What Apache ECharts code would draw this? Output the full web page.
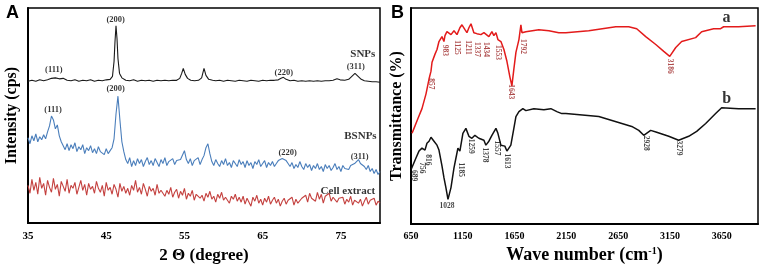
<!DOCTYPE html>
<html>
<head>
<meta charset="utf-8">
<script src="https://cdn.jsdelivr.net/npm/echarts@6/dist/echarts.min.js"></script>
<style>
  html, body { margin: 0; padding: 0; background: #fff; }
  #chart { width: 765px; height: 269px; }
</style>
</head>
<body>
<div id="chart"></div>
<script>
// ---- panel A: XRD (intensity in arbitrary units) ----
const xrdStart = 35;
const xrdStep = 0.25;
const xrdTicks = [35, 45, 55, 65, 75];

const snpPoints = [
  [35,143],[35.5,144],[36,143],[36.5,144.5],[37,143.5],[37.5,144.5],[38,146],[38.5,146.5],[39,145.5],[39.5,146],
  [40,144],[40.5,143.5],[41,144.5],[41.5,143],[42,144],[42.5,143.5],[43,144.5],[43.5,143],[44,144],[44.5,143.5],
  [45,144.5],[45.5,145],[45.8,148],[46.0,163],[46.12,183],[46.25,199],[46.38,186],[46.5,166],[46.7,151],[47,146.5],
  [47.5,144],[48,143.5],[48.5,144.5],[49,143],[49.5,144],[50,143.5],[50.5,144],[51,143],[51.5,144],[52,143.5],
  [52.5,144],[53,143.5],[53.5,144],[54,144],[54.4,146],[54.65,151],[54.85,156],[55.1,150],[55.4,146],[55.8,144],
  [56.3,143.5],[56.8,144],[57.2,146.5],[57.5,156],[57.75,149],[58.1,145],[58.6,144],[59,143.5],[59.5,144],[60,143],
  [60.5,144],[61,143.5],[61.5,143],[62,144],[62.5,143.5],[63,143],[63.5,144],[64,143.5],[64.5,143],[65,144],
  [65.5,143.5],[66,144],[66.5,144],[67,144.5],[67.35,146],[67.65,147],[68,145],[68.5,143.5],[69,144],[69.5,143],
  [70,143.5],[70.5,143],[71,143.5],[71.5,143],[72,143.5],[72.5,143],[73,143.5],[73.5,143.5],[74,144],[74.5,145.5],
  [74.9,144.5],[75.5,144],[76,145],[76.4,148],[76.8,151],[77.2,148],[77.6,145],[78,143.5],[78.5,143],[79,142.5],
  [79.5,142.5],[80,142]
];

// sampled every 0.25 degree from 35 to 80
const bsnpIntensity = [
  86, 80, 88, 83, 90, 82, 87, 84, 89, 85, 92,
  98, 108, 104, 95, 99, 88, 82,
  78, 74, 80, 73, 79, 75, 81, 72, 77, 74, 79, 70, 76, 73, 78, 71, 75, 70, 77, 72, 74, 69, 75, 70, 73,
  76, 85, 110, 128, 104, 82, 72, 64, 60, 66, 57,
  63, 58, 65, 60, 64, 57, 62, 66, 59, 63, 58, 65, 61, 57, 64, 60, 66, 58, 62, 60, 65, 59, 63, 61, 64,
  66, 73, 64,
  60, 65, 58, 63, 61, 66, 59, 64, 68,
  76, 80, 70, 62,
  58, 64, 60, 57, 63, 59, 65, 58, 61, 56, 63, 60, 57, 64, 59, 62, 56, 63, 58, 61, 55, 62, 59, 64, 57, 60, 63, 56, 61, 58, 62, 57, 60, 63, 61,
  65, 67, 63, 60,
  57, 61, 55, 59, 56, 62, 57, 54, 60, 56, 59, 53, 58, 55, 60, 54, 57, 52, 59, 55, 58, 53, 56, 60, 54, 57, 52, 58, 55, 57, 54, 58, 56, 60, 62,
  64, 60, 62,
  57, 54, 58, 52, 55, 50, 54, 49, 52
];

const cellIntensity = [
  38, 30, 44, 33, 41, 29, 46, 35, 40, 28, 43, 36, 31, 45, 34, 39, 27, 42, 37, 32,
  44, 30, 38, 35, 41, 29, 36, 43, 33, 39, 28, 40, 34, 37, 30, 42, 35, 31, 38, 27,
  41, 33, 36, 29, 39, 34, 26, 40, 32, 37, 30, 35, 28, 38, 33, 43, 31, 36, 29, 40,
  34, 27, 37, 32, 35, 28, 39, 30, 33,
  35, 27, 33, 29, 36, 26, 31, 34, 25, 32, 28, 35, 24, 30, 27, 33, 23, 29, 31, 25,
  28, 22, 30, 26, 32, 24, 27, 21, 29, 25, 31, 23, 26, 28, 20, 27, 24, 29, 22, 26,
  21, 27, 19, 25, 23, 17, 26, 22, 28, 20, 24, 18, 25, 21, 27, 19, 23, 26, 20, 24,
  17, 22, 25, 19, 23, 21, 26, 18, 24, 20, 22, 25,
  23, 28, 21, 30, 25, 27, 22, 31, 24, 29, 20, 27, 25, 30, 22, 26, 28, 21, 25, 23,
  26, 19, 24, 21, 27, 18, 23, 25, 20, 24, 17, 22, 26, 19, 23, 21, 25, 18, 22, 20
];

// [angle, intensity, text]
const xrdPeakLabels = [
  [38.3, 155, '(111)'], [46.2, 205, '(200)'], [67.7, 152, '(220)'], [76.9, 158, '(311)'],
  [38.2, 114, '(111)'], [46.2, 135, '(200)'], [68.2, 71, '(220)'], [77.4, 67, '(311)']
];
const xrdSeriesLabels = [[77.8, 170, 'SNPs'], [77.5, 88, 'BSNPs'], [75.9, 32, 'Cell extract']];

// ---- panel B: FTIR ----
const ftirTicks = [650, 1150, 1650, 2150, 2650, 3150, 3650];

const ftirA = [
  [660,92],[679,97],[717,107],[756,117],[795,132],[824,147],[843,155],[853,164],[881,172],[901,177],
  [920,185],[949,190],[968,185],[978,191],[997,195],[1016,194],[1036,192],[1065,196],[1094,192],[1122,199],
  [1142,202],[1171,197],[1190,194],[1209,199],[1229,203],[1257,194],[1286,193],[1325,192],[1354,194],[1373,195],
  [1402,190],[1431,195],[1450,191],[1470,194],[1489,187],[1518,185],[1547,177],[1576,165],[1605,149],[1624,140],
  [1643,157],[1663,174],[1692,187],[1711,202],[1721,194],[1740,193],[1759,195],[1884,197],[1981,196],[2077,194],
  [2145,194],[2366,196],[2627,200],[2752,200],[2829,198],[2916,190],[3013,182],[3090,175],[3148,170],[3206,179],
  [3263,185],[3398,189],[3456,195],[3572,198],[3639,198],[3668,200],[3813,200],[3977,201]
];

const ftirB = [
  [650,55],[660,57],[669,53],[698,67],[727,74],[756,77],[785,75],[804,82],[824,84],[843,88],
  [872,84],[901,80],[920,75],[949,59],[968,47],[987,37],[1007,25],[1036,37],[1065,57],[1084,67],
  [1103,77],[1122,74],[1151,92],[1180,97],[1209,89],[1238,87],[1267,90],[1305,87],[1354,85],[1373,80],
  [1402,84],[1431,90],[1470,97],[1489,92],[1518,80],[1556,79],[1576,74],[1614,80],[1643,97],[1663,109],
  [1692,114],[1730,117],[1759,115],[1836,117],[1933,116],[2000,117],[2058,114],[2106,112],[2145,112],[2463,109],
  [2781,99],[2849,95],[2897,90],[2964,95],[3022,93],[3138,89],[3234,85],[3331,89],[3408,94],[3495,102],
  [3591,112],[3649,118],[3813,117],[3977,117]
];

// [wavenumber, transmittance, text, rotate]
const ftirLabelsA = [
  [843,142,'857',-90],[978,176,'983',-90],[1094,179,'1125',-90],[1200,179,'1211',-90],[1286,177,'1337',-90],
  [1373,177,'1434',-90],[1489,174,'1553',-90],[1614,134,'1643',-90],[1730,180,'1792',-90],[3148,160,'3186',-90]
];
const ftirLabelsB = [
  [679,49,'689',-90],[756,57,'756',-90],[814,65,'816',-90],[997,18,'1028',0],[1132,55,'1185',-90],
  [1229,79,'1259',-90],[1364,70,'1378',-90],[1479,77,'1557',-90],[1576,64,'1613',-90],[2916,82,'2928',-90],
  [3234,77,'3279',-90]
];
const ftirCurveNames = [[3697,209,'a'],[3697,127,'b']];

const SERIF = '"Liberation Serif", "Times New Roman", serif';
const SANS = '"Liberation Sans", Arial, sans-serif';

const chart = echarts.init(document.getElementById('chart'), null, { renderer: 'canvas' });

function textSeries(idx, items, fontSize, color) {
  return {
    type: 'scatter', xAxisIndex: idx, yAxisIndex: idx, symbolSize: 1, silent: true, z: 5,
    itemStyle: { color: 'transparent' },
    label: { show: true, position: 'inside', fontFamily: SERIF, fontWeight: 'bold', fontSize: fontSize, color: color },
    data: items.map(d => ({ value: [d[0], d[1]], label: { formatter: d[2], rotate: d[3] || 0 } }))
  };
}

function xrdLine(values, color) {
  return {
    type: 'line', xAxisIndex: 0, yAxisIndex: 0, showSymbol: false, silent: true,
    lineStyle: { color: color, width: 1.1 },
    data: values.map((v, i) => [xrdStart + i * xrdStep, v])
  };
}

const axisText = { fontFamily: SERIF, fontWeight: 'bold', color: '#000' };

const option = {
  animation: false,
  grid: [
    { left: 28, top: 8, width: 352, height: 217, show: true, borderColor: '#000', borderWidth: 1.5 },
    { left: 411, top: 8, width: 347, height: 219, show: true, borderColor: '#000', borderWidth: 1.5 }
  ],
  xAxis: [
    {
      gridIndex: 0, type: 'value', min: 35, max: 80,
      axisLine: { lineStyle: { color: '#000', width: 2 } },
      axisTick: { show: false }, splitLine: { show: false },
      axisLabel: { customValues: xrdTicks, fontSize: 11, margin: 8, formatter: v => String(v), ...axisText },
      name: '2 Θ (degree)', nameLocation: 'middle', nameGap: 24,
      nameTextStyle: { fontSize: 17, ...axisText }
    },
    {
      gridIndex: 1, type: 'value', min: 650, max: 4000,
      axisLine: { lineStyle: { color: '#000', width: 2 } },
      axisTick: { show: false }, splitLine: { show: false },
      axisLabel: { customValues: ftirTicks, fontSize: 10, margin: 7, formatter: v => String(v), ...axisText },
      name: 'Wave number (cm{sup|-1})', nameLocation: 'middle', nameGap: 20,
      nameTextStyle: {
        fontSize: 18, ...axisText,
        rich: { sup: { fontSize: 10, fontFamily: SERIF, fontWeight: 'bold', color: '#000', verticalAlign: 'top', padding: [0, 0, 8, 0] } }
      }
    }
  ],
  yAxis: [
    {
      gridIndex: 0, type: 'value', min: 0, max: 217,
      axisLine: { show: true, lineStyle: { color: '#000', width: 2 } },
      axisTick: { show: false }, axisLabel: { show: false }, splitLine: { show: false },
      name: 'Intensity (cps)', nameLocation: 'middle', nameGap: 8,
      nameTextStyle: { fontSize: 16, ...axisText }
    },
    {
      gridIndex: 1, type: 'value', min: 0, max: 219,
      axisLine: { show: true, lineStyle: { color: '#000', width: 2 } },
      axisTick: { show: false }, axisLabel: { show: false }, splitLine: { show: false },
      name: 'Transmittance (%)', nameLocation: 'middle', nameGap: 6,
      nameTextStyle: { fontSize: 16, ...axisText }
    }
  ],
  graphic: [
    { type: 'text', left: 6, top: 4, style: { text: 'A', font: 'bold 18px ' + SANS, fill: '#000' } },
    { type: 'text', left: 391, top: 4, style: { text: 'B', font: 'bold 18px ' + SANS, fill: '#000' } }
  ],
  series: [
    {
      type: 'line', xAxisIndex: 0, yAxisIndex: 0, showSymbol: false, silent: true,
      lineStyle: { color: '#1a1a1a', width: 1.1 }, data: snpPoints
    },
    xrdLine(bsnpIntensity, '#4a7ebb'),
    xrdLine(cellIntensity, '#c4413f'),
    textSeries(0, xrdPeakLabels, 8.5, '#000'),
    textSeries(0, xrdSeriesLabels, 11, '#000'),
    {
      type: 'line', xAxisIndex: 1, yAxisIndex: 1, showSymbol: false, silent: true,
      lineStyle: { color: '#e31b1b', width: 1.5 }, data: ftirA
    },
    {
      type: 'line', xAxisIndex: 1, yAxisIndex: 1, showSymbol: false, silent: true,
      lineStyle: { color: '#111', width: 1.5 }, data: ftirB
    },
    textSeries(1, ftirLabelsA, 7.5, '#9a1f1f'),
    textSeries(1, ftirLabelsB, 7.5, '#111'),
    textSeries(1, ftirCurveNames, 16, '#000')
  ]
};

chart.setOption(option);
</script>
</body>
</html>
